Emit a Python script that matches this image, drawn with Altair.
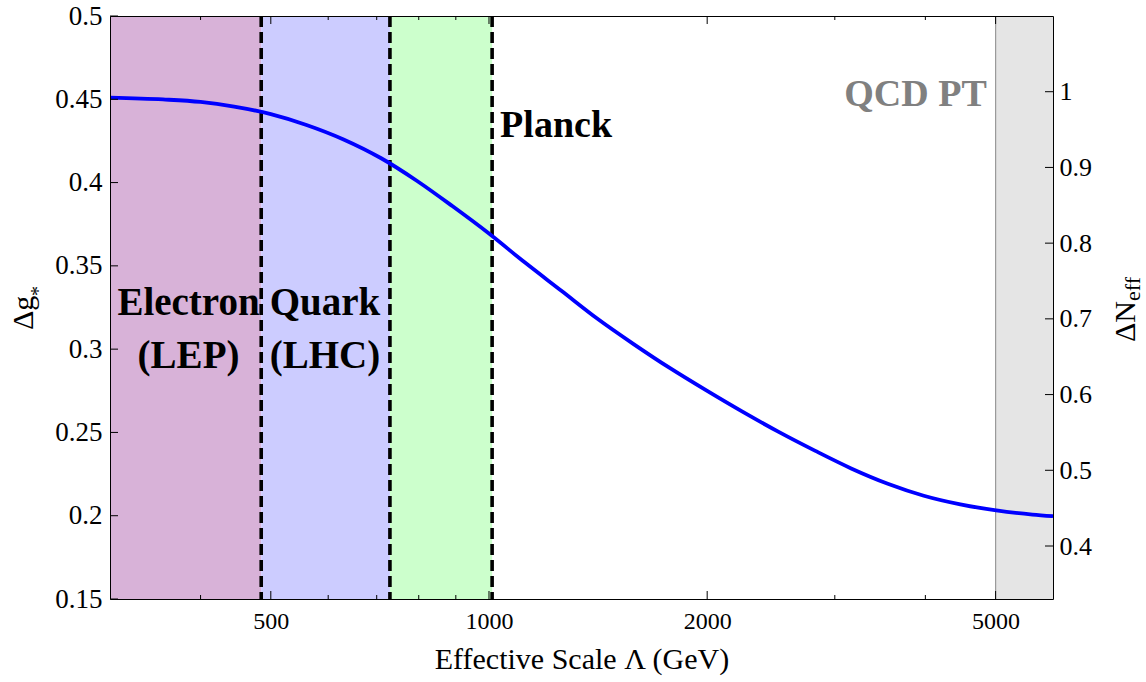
import altair as alt
import pandas as pd

# ---- data ----
lam = [300, 355, 400, 445, 500, 560, 630, 710, 795, 890, 1000, 1120, 1260,
       1410, 1585, 1780, 2000, 2240, 2510, 2820, 3160, 3550, 3980, 4470,
       5010, 5620, 6000]
dg = [0.4510, 0.4499, 0.4484, 0.4456, 0.4411, 0.4346, 0.4259, 0.4146, 0.4011,
      0.3859, 0.3694, 0.3521, 0.3349, 0.3184, 0.3029, 0.2884, 0.2749, 0.2623,
      0.2503, 0.2389, 0.2284, 0.2192, 0.2120, 0.2068, 0.2032, 0.2007, 0.1997]

band_x0 = [300, 485, 730, 5000]
band_x1 = [485, 730, 1010, 6000]
band_color = ["#d8b2d8", "#ccccff", "#ccffcc", "#e5e5e5"]

dash_x = [485, 730, 1010]
qcd_edge = [5000]

x_major = [500, 1000, 2000, 5000]
x_minor = [400, 600, 700, 800, 900, 3000, 4000]
y_left = [0.15, 0.2, 0.25, 0.3, 0.35, 0.4, 0.45, 0.5]
y_right = [0.4, 0.5, 0.6, 0.7, 0.8, 0.9, 1.0]

center_text = ["Electron", "(LEP)", "Quark", "(LHC)"]
center_lam = [385, 385, 594, 594]
center_dg = [0.3205, 0.2887, 0.3205, 0.2887]
planck_text = ["Planck"]
planck_lam = [1036]
planck_dg = [0.4275]
qcd_text = ["QCD PT"]
qcd_lam = [4861]
qcd_dg = [0.446]

x_title = "Effective Scale Λ (GeV)"
left_title = ["Δg", "*"]
right_title = ["ΔN", "eff"]

W, H = 943, 583
SERIF = "'Liberation Serif', 'Times New Roman', Times, serif"

x_scale = alt.Scale(type="log", domain=[300, 6000], nice=False)
y_scale = alt.Scale(domain=[0.15, 0.5], nice=False, zero=False)
y2_scale = alt.Scale(domain=[0.33, 1.1], nice=False, zero=False)

y_axis = alt.Axis(values=y_left, format="~g", title=None, orient="left",
                  ticks=False, tickSize=0, grid=False,
                  domainColor="black", domainWidth=1,
                  labelFont=SERIF, labelFontSize=27, labelColor="black",
                  labelPadding=8, zindex=1)

curve_df = pd.DataFrame({"lam": lam, "dg": dg})
band_df = pd.DataFrame({"x0": band_x0, "x1": band_x1, "c": band_color})

bands = alt.Chart(band_df).mark_rect(strokeWidth=0).encode(
    x=alt.X("x0:Q", scale=x_scale,
            axis=alt.Axis(orient="top", labels=False, ticks=False, tickSize=0,
                          grid=False, title=None, domainColor="black",
                          domainWidth=1, zindex=1)),
    x2="x1:Q",
    y=alt.value(0), y2=alt.value(H),
    color=alt.Color("c:N", scale=None),
)

edge = alt.Chart(pd.DataFrame({"x": qcd_edge})).mark_rule(
    color="#9a9a9a", strokeWidth=1.2).encode(
    x=alt.X("x:Q", scale=x_scale, axis=None), y=alt.value(0), y2=alt.value(H))

dashes = alt.Chart(pd.DataFrame({"x": dash_x})).mark_rule(
    color="black", strokeWidth=3.6, strokeDash=[11, 5]).encode(
    x=alt.X("x:Q", scale=x_scale, axis=None), y=alt.value(0), y2=alt.value(H))

curve = alt.Chart(curve_df).mark_line(
    color="#0000ff", strokeWidth=3.8, interpolate="monotone", clip=True).encode(
    x=alt.X("lam:Q", scale=x_scale,
            axis=alt.Axis(values=x_major, format="d", title=x_title,
                          ticks=False, tickSize=0, grid=False,
                          domainColor="black", domainWidth=1,
                          labelFont=SERIF, labelFontSize=24, labelColor="black",
                          labelPadding=10, titleFont=SERIF, titleFontSize=30,
                          titleFontWeight="normal", titleColor="black",
                          titlePadding=11, zindex=1)),
    y=alt.Y("dg:Q", scale=y_scale, axis=y_axis),
)

def xticks(vals, length, top):
    d = pd.DataFrame({"v": vals})
    if top:
        yy, yy2 = 0, length
    else:
        yy, yy2 = H, H - length
    return alt.Chart(d).mark_rule(color="black", strokeWidth=1).encode(
        x=alt.X("v:Q", scale=x_scale, axis=None),
        y=alt.value(yy), y2=alt.value(yy2))

ytick_left = alt.Chart(pd.DataFrame({"v": y_left})).mark_rule(
    color="black", strokeWidth=1).encode(
    y=alt.Y("v:Q", scale=y_scale, axis=y_axis), x=alt.value(0), x2=alt.value(8))

def ann(texts, xs, ys, align, color, size):
    d = pd.DataFrame({"t": texts, "x": xs, "y": ys})
    return alt.Chart(d).mark_text(
        font=SERIF, fontWeight="bold", fontSize=size, align=align,
        baseline="alphabetic", color=color).encode(
        x=alt.X("x:Q", scale=x_scale, axis=None),
        y=alt.Y("y:Q", scale=y_scale, axis=y_axis),
        text="t:N")

t_center = ann(center_text, center_lam, center_dg, "center", "black", 39)
t_planck = ann(planck_text, planck_lam, planck_dg, "left", "black", 38)
t_qcd = ann(qcd_text, qcd_lam, qcd_dg, "right", "#808080", 38)

def free_text(t, px, py, size):
    return alt.Chart(pd.DataFrame({"t": [t]})).mark_text(
        font=SERIF, fontSize=size, angle=270, align="left",
        baseline="alphabetic", color="black").encode(
        x=alt.value(px), y=alt.value(py), text="t:N")

lt1 = free_text(left_title[0], -77, 314, 30)
lt2 = free_text(left_title[1], -65, 280, 20)
rt1 = free_text(right_title[0], 1025, 326, 30)
rt2 = free_text(right_title[1], 1030, 285, 22)

left = alt.layer(
    bands, edge, dashes, curve, t_center, t_planck, t_qcd,
    xticks(x_major, 8, False), xticks(x_minor, 4, False),
    xticks(x_major, 8, True), xticks(x_minor, 4, True),
    ytick_left, lt1, lt2, rt1, rt2,
).resolve_axis(x="independent")

right = alt.Chart(pd.DataFrame({"v": y_right})).mark_rule(
    color="black", strokeWidth=1).encode(
    y=alt.Y("v:Q", scale=y2_scale,
            axis=alt.Axis(orient="right", values=y_right, format="~g",
                          ticks=False, tickSize=0, grid=False, title=None,
                          domainColor="black", domainWidth=1,
                          labelFont=SERIF, labelFontSize=26, labelColor="black",
                          labelPadding=6, zindex=1)),
    x=alt.value(W), x2=alt.value(W - 8))

chart = alt.layer(left, right).resolve_scale(y="independent").properties(
    width=W, height=H,
    autosize=alt.AutoSizeParams(type="none"),
    padding={"left": 110, "top": 16, "right": 93, "bottom": 83},
    background="white",
).configure_view(stroke=None)

chart.save("out.html", embed_options={"renderer": "svg", "actions": False})
